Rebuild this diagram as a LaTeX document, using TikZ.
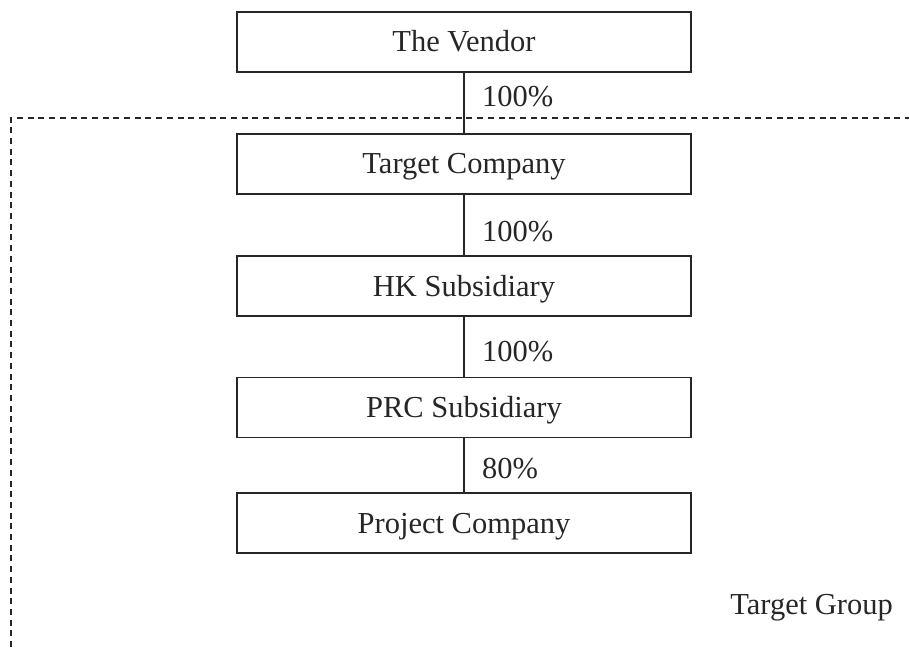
\documentclass[tikz,border=0pt]{standalone}
\usepackage{fontspec}
\setmainfont{Liberation Serif}
\begin{document}
\begin{tikzpicture}[x=1pt,y=-1pt,
  every node/.style={font=\fontsize{30.5}{36}\selectfont, text=black!85},
  entity/.style={draw=black!85, line width=1.2pt, minimum width=454pt, minimum height=60pt,
                 inner sep=0pt, text height=20pt, text depth=0pt},
  share/.style={inner sep=0pt, anchor=west},
  link/.style={draw=black!85, line width=1.2pt},
  groupframe/.style={draw=black!85, line width=1.1pt, dash pattern=on 6pt off 4.7pt}]
\useasboundingbox (0,0) rectangle (909,647);

% group boundary (open towards the right and bottom)
\draw[groupframe] (11,647) -- (11,118) -- (909,118);

% ownership chain
\node[entity] (vendor)  at (464,42)    {The Vendor};
\node[entity] (target)  at (464,164)   {Target Company};
\node[entity] (hk)      at (464,286)   {HK Subsidiary};
\node[entity] (prc)     at (464,407.5) {PRC Subsidiary};
\node[entity] (project) at (464,523)   {Project Company};

\draw[link] (vendor.south) -- (target.north);
\draw[link] (target.south) -- (hk.north);
\draw[link] (hk.south) -- (prc.north);
\draw[link] (prc.south) -- (project.north);

% shareholding percentages
\node[share] (s1) at (482,97)  {100\%};
\node[share] (s2) at (482,232) {100\%};
\node[share] (s3) at (482,352) {100\%};
\node[share] (s4) at (482,469) {80\%};

\node[inner sep=0pt, anchor=base east] (grp) at (893,614) {Target Group};
\end{tikzpicture}
\end{document}
